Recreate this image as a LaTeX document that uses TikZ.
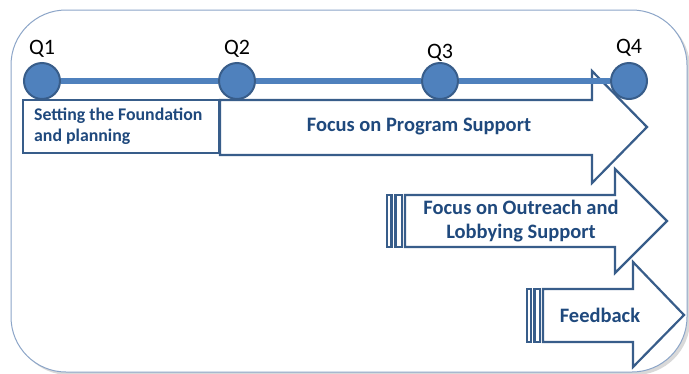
\documentclass[tikz,border=0pt]{standalone}
\usepackage{fontspec}
\setmainfont{Carlito}
\usepackage{tikz}
\usepackage{xcolor}
\usetikzlibrary{shadows}

\definecolor{qfill}{RGB}{79,129,189}
\definecolor{qline}{RGB}{56,93,138}
\definecolor{qtext}{RGB}{31,73,125}
\definecolor{qframe}{RGB}{140,165,200}

\tikzset{
	phase/.style={draw=qline, line width=2.2pt, fill=white, line join=miter},
	phasetext/.style={text=qtext, inner sep=0pt, font=\fontsize{20.5}{24}\selectfont\bfseries},
	quarter/.style={circle, draw=qline, line width=2pt, fill=qfill, minimum size=36pt, inner sep=0pt},
	qlabel/.style={inner sep=0pt, font=\fontsize{22}{24}\selectfont},
}

\begin{document}
\begin{tikzpicture}[x=1pt, y=-1pt]
	\useasboundingbox (0,0) rectangle (689,373);
	% rounded frame
	\draw[qframe, line width=1pt, fill=white, rounded corners=55pt,
		drop shadow={shadow xshift=3pt, shadow yshift=-3pt, opacity=0.3}] (11,10) rectangle (687,372);

	% first quarter box
	\draw[phase] (23,100) rectangle (219,153);
	\node[phasetext, anchor=west, align=left, font=\fontsize{17.8}{21}\selectfont\bfseries] (found) at (34,126) {Setting the Foundation\\and planning};

	% program arrow
	\draw[phase] (220,100) -- (592,100) -- (592,71) -- (647,127) -- (592,183) -- (592,155) -- (220,155) -- cycle;
	\node[phasetext] (prog) at (419,127) {Focus on Program Support};

	% outreach arrow
	\draw[phase] (387,195) rectangle (391.5,247);
	\draw[phase] (395.5,195) rectangle (402,247);
	\draw[phase] (405,195) -- (615,195) -- (615,169) -- (667,221) -- (615,273) -- (615,247) -- (405,247) -- cycle;
	\node[phasetext, align=center] (outreach) at (521,221) {Focus on Outreach and\\Lobbying Support};

	% feedback arrow
	\draw[phase] (527,289) rectangle (531,342);
	\draw[phase] (534.5,289) rectangle (540,342);
	\draw[phase] (543,289) -- (633,289) -- (633,262) -- (684,315) -- (633,367) -- (633,342) -- (543,342) -- cycle;
	\node[phasetext] (feed) at (600,315) {Feedback};

	% timeline
	\foreach \n/\x/\ly in {1/42/49, 2/237/49, 3/440/53, 4/629/48}
	{
		\node[quarter] (q\n) at (\x,81) {};
		\node[qlabel] (lab\n) at (\x,\ly) {Q\n};
	}
	\foreach \a/\b in {1/2, 2/3, 3/4}
		\draw[qfill, line width=6pt] (q\a) -- (q\b);
\end{tikzpicture}
\end{document}
